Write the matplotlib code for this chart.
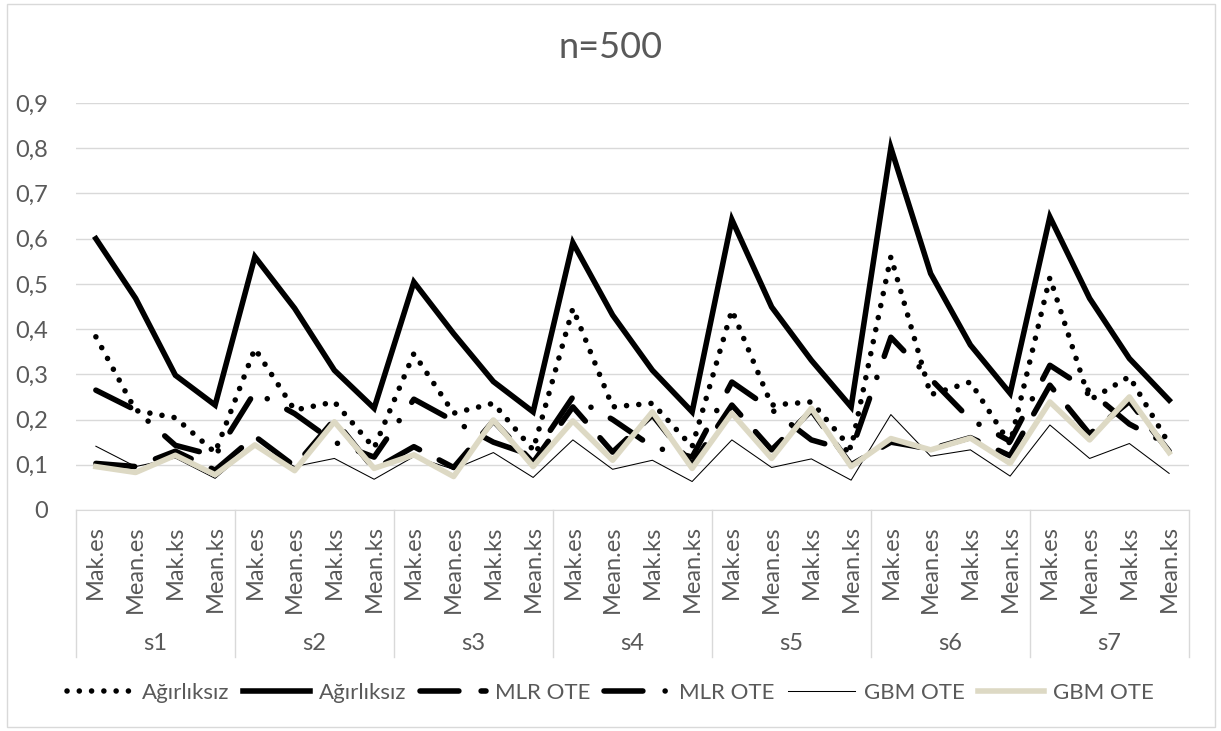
import matplotlib.pyplot as plt
from matplotlib.lines import Line2D
from matplotlib.patches import Rectangle

plt.rcParams['font.family'] = ['Lato', 'DejaVu Sans']

# ========== Data ==========
groups = ['s1', 's2', 's3', 's4', 's5', 's6', 's7']
metrics = ['Mak.es', 'Mean.es', 'Mak.ks', 'Mean.ks']
categories = metrics * len(groups)

agirliksiz_dot = [0.383, 0.220, 0.204, 0.127,
                  0.357, 0.221, 0.239, 0.137,
                  0.346, 0.214, 0.236, 0.133,
                  0.446, 0.228, 0.236, 0.140,
                  0.442, 0.232, 0.239, 0.136,
                  0.560, 0.255, 0.283, 0.146,
                  0.514, 0.243, 0.295, 0.146]
agirliksiz_solid = [0.600, 0.468, 0.298, 0.232,
                    0.560, 0.446, 0.309, 0.225,
                    0.504, 0.390, 0.284, 0.217,
                    0.591, 0.431, 0.309, 0.217,
                    0.642, 0.449, 0.331, 0.228,
                    0.801, 0.523, 0.365, 0.258,
                    0.648, 0.468, 0.335, 0.243]
mlr_dash = [0.103, 0.096, 0.130, 0.088,
            0.163, 0.097, 0.200, 0.090,
            0.140, 0.094, 0.197, 0.105,
            0.228, 0.128, 0.210, 0.100,
            0.232, 0.133, 0.220, 0.100,
            0.150, 0.135, 0.160, 0.120,
            0.276, 0.168, 0.240, 0.130]
mlr_dashdot = [0.265, 0.221, 0.143, 0.120,
               0.261, 0.213, 0.150, 0.117,
               0.245, 0.197, 0.150, 0.120,
               0.250, 0.200, 0.140, 0.117,
               0.283, 0.222, 0.155, 0.130,
               0.382, 0.290, 0.200, 0.152,
               0.320, 0.263, 0.190, 0.144]
gbm_thin = [0.141, 0.096, 0.115, 0.070,
            0.145, 0.096, 0.114, 0.068,
            0.118, 0.090, 0.127, 0.072,
            0.155, 0.090, 0.110, 0.063,
            0.155, 0.094, 0.113, 0.066,
            0.211, 0.119, 0.133, 0.075,
            0.188, 0.114, 0.147, 0.081]
gbm_beige = [0.096, 0.083, 0.121, 0.078,
             0.144, 0.087, 0.195, 0.092,
             0.122, 0.074, 0.199, 0.096,
             0.197, 0.110, 0.217, 0.092,
             0.214, 0.114, 0.225, 0.096,
             0.158, 0.133, 0.159, 0.103,
             0.239, 0.155, 0.250, 0.127]

# ========== Figure ==========
W, H = 1221, 731
fig = plt.figure(figsize=(W / 100, H / 100), dpi=100)
ax = fig.add_axes([76 / W, 1 - 510 / H, (1189 - 76) / W, (510 - 103) / H])

text_col = '#595959'
grid_col = '#D9D9D9'
beige = '#DDD9C4'
lw = 4

x = list(range(len(categories)))
ax.plot(x, agirliksiz_dot, color='black', lw=lw, linestyle=(0, (0.01, 2.2)),
        dash_capstyle='round', label='Ağırlıksız')
ax.plot(x, agirliksiz_solid, color='black', lw=lw, solid_joinstyle='miter',
        label='Ağırlıksız')
ax.plot(x, mlr_dash, color='black', lw=lw, linestyle=(0, (7, 4)),
        dash_capstyle='round', label='MLR OTE')
ax.plot(x, mlr_dashdot, color='black', lw=lw, linestyle=(0, (7, 4, 0.01, 4)),
        dash_capstyle='round', label='MLR OTE')
ax.plot(x, gbm_thin, color='black', lw=0.75, label='GBM OTE')
ax.plot(x, gbm_beige, color=beige, lw=lw, label='GBM OTE')

ax.set_xlim(-0.5, len(categories) - 0.5)
ax.set_ylim(0, 0.9)
ax.set_yticks([i / 10 for i in range(10)])
ax.set_yticklabels(['0'] + [f'0,{i}' for i in range(1, 10)])
ax.grid(axis='y', color=grid_col, lw=1)
ax.set_axisbelow(True)
for s in ['top', 'right', 'left']:
    ax.spines[s].set_visible(False)
ax.spines['bottom'].set_color(grid_col)
ax.tick_params(axis='y', length=0, pad=20, labelsize=17, labelcolor=text_col)

ax.set_xticks(x)
ax.set_xticklabels(categories, rotation=90, va='top', ha='center')
ax.tick_params(axis='x', length=0, pad=11, labelsize=17, labelcolor=text_col)

# multi-level category axis
ah = 510 - 103
trans = ax.get_xaxis_transform()
for k in range(len(groups) + 1):
    ax.add_line(Line2D([4 * k - 0.5] * 2, [0, -(657 - 510) / ah], transform=trans,
                       color=grid_col, lw=1, clip_on=False))
for k, g in enumerate(groups):
    ax.text(4 * k + 1.5, -(643 - 510) / ah, g, transform=trans, ha='center',
            va='center', fontsize=17, color=text_col)

fig.text(0.5, 1 - 48 / H, 'n=500', ha='center', va='center', fontsize=26,
         color=text_col)

fig.legend(loc='center', bbox_to_anchor=(0.5, 1 - 693 / H), ncol=6, frameon=False,
           fontsize=16, handlelength=3.0, handletextpad=0.4, columnspacing=0.6,
           labelcolor=text_col)

fig.patches.append(Rectangle((7 / W, 4 / H), (1215 - 7) / W, (727 - 4) / H,
                             transform=fig.transFigure, fill=False,
                             edgecolor=grid_col, lw=1))

plt.savefig('out.png', dpi=100)
